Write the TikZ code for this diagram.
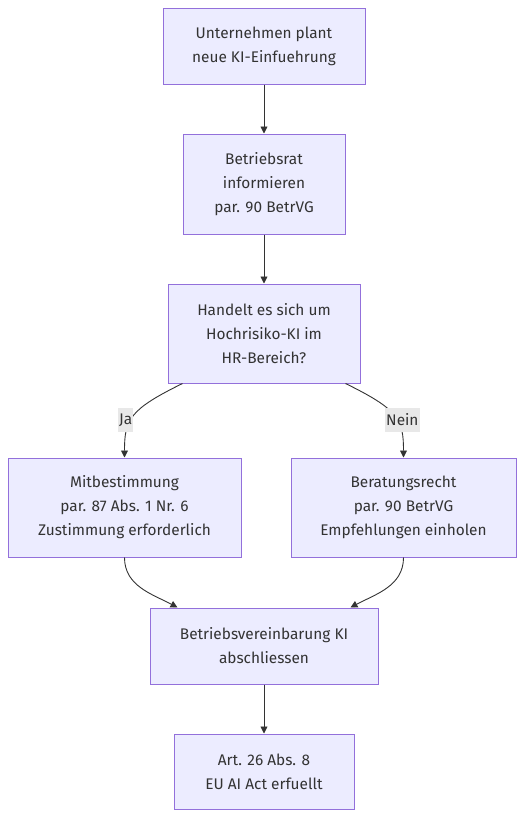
\documentclass[tikz,border=0pt]{standalone}
\usepackage{fontspec}
\setmainfont{Fira Sans}
\usepackage{tikz}
\usetikzlibrary{positioning,arrows.meta}

\definecolor{boxfill}{HTML}{ECECFF}
\definecolor{boxline}{HTML}{9370DB}
\definecolor{edgecol}{HTML}{333333}
\definecolor{lblfill}{HTML}{E8E8E8}

\tikzset{
  stepbox/.style={draw=boxline, fill=boxfill, line width=1pt, align=center,
    text=edgecol, font=\fontsize{15.4}{24}\selectfont, inner sep=0pt},
  edge/.style={draw=edgecol, line width=0.9pt, -{Triangle[length=7pt,width=7pt]}},
  edgelbl/.style={fill=lblfill, text=edgecol, font=\fontsize{15.4}{20}\selectfont,
    inner xsep=1pt, inner ysep=0pt, minimum height=24}
}

\begin{document}
\begin{tikzpicture}[x=1pt,y=-1pt]
    \useasboundingbox (0,0) rectangle (532,830);
    \node[stepbox, minimum width=202, minimum height=76] (plan) at (264,46) {Unternehmen plant\\neue KI-Einfuehrung};
    \node[stepbox, minimum width=162, minimum height=100] (info) at (264,184) {Betriebsrat\\informieren\\par. 90 BetrVG};
    \node[stepbox, minimum width=192, minimum height=99] (frage) at (264,333.5) {Handelt es sich um\\Hochrisiko-KI im\\HR-Bereich?};
    \node[stepbox, minimum width=233, minimum height=99] (mitbest) at (124.5,507.5) {Mitbestimmung\\par. 87 Abs. 1 Nr. 6\\Zustimmung erforderlich};
    \node[stepbox, minimum width=225, minimum height=99] (beratung) at (403.5,507.5) {Beratungsrecht\\par. 90 BetrVG\\Empfehlungen einholen};
    \node[stepbox, minimum width=228, minimum height=76] (vereinb) at (264,646) {Betriebsvereinbarung KI\\abschliessen};
    \node[stepbox, minimum width=180, minimum height=75] (euact) at (264,771.5) {Art. 26 Abs. 8\\EU AI Act erfuellt};

    \draw[edge] (plan) -- (info);
    \draw[edge] (info) -- (frage);
    \draw[edge] ([xshift=15]frage.south west) .. controls +(-53,26) and +(0,-38) ..
        node[edgelbl, pos=0.5, xshift=-8, yshift=-4] {Ja} (mitbest.north);
    \draw[edge] ([xshift=-15]frage.south east) .. controls +(53,26) and +(0,-38) ..
        node[edgelbl, pos=0.5, xshift=8, yshift=-4] {Nein} (beratung.north);
    \draw[edge] (mitbest.south) to[out=-90, in=152] ([xshift=28]vereinb.north west);
    \draw[edge] (beratung.south) to[out=-90, in=28] ([xshift=-28]vereinb.north east);
    \draw[edge] (vereinb) -- (euact);
\end{tikzpicture}
\end{document}
